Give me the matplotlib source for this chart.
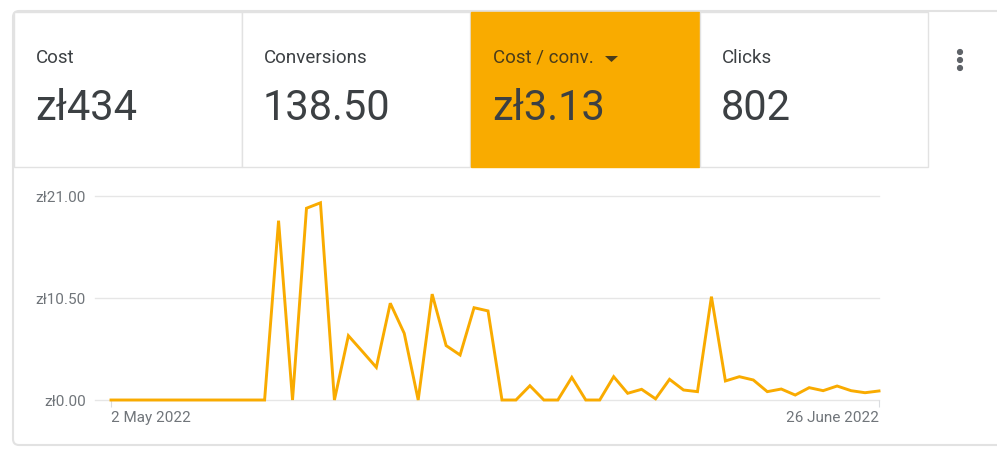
import matplotlib
matplotlib.use("Agg")
import matplotlib.pyplot as plt
from matplotlib.patches import Rectangle, Polygon, FancyBboxPatch

plt.rcParams['font.family'] = ['Roboto', 'DejaVu Sans']

# ---- data ----
metric_names = ["Cost", "Conversions", "Cost / conv.", "Clicks"]
metric_values = ["zł434", "138.50", "zł3.13", "802"]
cost_per_conv = [0, 0, 0, 0, 0, 0, 0, 0, 0, 0, 0, 0,
                 18.46, 0, 19.74, 20.3, 0, 6.62, 5.0, 3.36, 9.96, 6.86,
                 0, 10.9, 5.6, 4.63, 9.5, 9.17, 0, 0, 1.47, 0, 0, 2.33,
                 0, 0, 2.4, 0.69, 1.1, 0.12, 2.13, 1.03, 0.86, 10.64,
                 1.96, 2.4, 2.06, 0.86, 1.13, 0.51, 1.27, 0.96, 1.44,
                 0.96, 0.75, 0.93]
y_ticks = [0, 10.5, 21]
y_tick_labels = ["zł0.00", "zł10.50", "zł21.00"]
x_tick_labels = ["2 May 2022", "26 June 2022"]

W, H = 997, 450
fig = plt.figure(figsize=(W / 100, H / 100), dpi=100)
fig.patch.set_facecolor("white")

bg = fig.add_axes([0, 0, 1, 1])
bg.set_xlim(0, W)
bg.set_ylim(H, 0)
bg.axis("off")

border = "#e2e2e2"
text_dark = "#3c4043"
orange = "#F9AB00"

# card outline
card = FancyBboxPatch((13, 11), W + 20, 434, boxstyle="round,pad=0,rounding_size=6",
                      facecolor="white", edgecolor=border, linewidth=1.5)
bg.add_patch(card)

# tiles
tile_x = [14, 242, 471, 700]
tile_w = 228
for i, (name, val) in enumerate(zip(metric_names, metric_values)):
    x0 = tile_x[i]
    face = orange if i == 2 else "white"
    bg.add_patch(Rectangle((x0, 12), tile_w, 155, facecolor=face,
                           edgecolor=border if i != 2 else orange, linewidth=1.0))
    title_color = "#4a3c1a" if i == 2 else text_dark
    bg.text(x0 + 22, 58, name, fontsize=13.5, color=title_color, va="center", ha="left")
    bg.text(x0 + 21, 108, val, fontsize=30, color=text_dark, va="center", ha="left")

# dropdown triangle
bg.add_patch(Polygon([[605, 56], [618, 56], [611.5, 62]], closed=True,
                     facecolor="#4a3c1a", edgecolor="none"))

# kebab menu
for yy in (52, 60, 68):
    bg.add_patch(plt.Circle((960, yy), 2.4, color="#5f6368"))

# ---- chart ----
left, right, top, bottom = 111, 879, 196, 400
ax = fig.add_axes([left / W, (H - bottom) / H, (right - left) / W, (bottom - top) / H])
ax.set_facecolor("none")
days = list(range(len(cost_per_conv)))
ax.plot(days, cost_per_conv, color=orange, linewidth=2.1, solid_joinstyle="miter",
        zorder=3, clip_on=False)
ax.set_xlim(0, len(days) - 1)
ax.set_ylim(0, 21)
for s in ax.spines.values():
    s.set_visible(False)
for yv in y_ticks:
    ax.axhline(yv, xmin=-0.021, xmax=1.0, color="#e6e6e6", linewidth=1.0,
               clip_on=False, zorder=1)
ax.set_yticks(y_ticks)
ax.set_yticklabels(y_tick_labels, fontsize=11, color="#70757a")
ax.tick_params(axis="y", length=0, pad=18)
ax.set_xticks([0, len(days) - 1])
xl = ax.set_xticklabels(x_tick_labels, fontsize=11, color="#70757a")
xl[0].set_ha("left")
xl[1].set_ha("right")
ax.tick_params(axis="x", length=5, color="#dadce0", pad=3)

fig.savefig("out.png", dpi=100, facecolor="white")
